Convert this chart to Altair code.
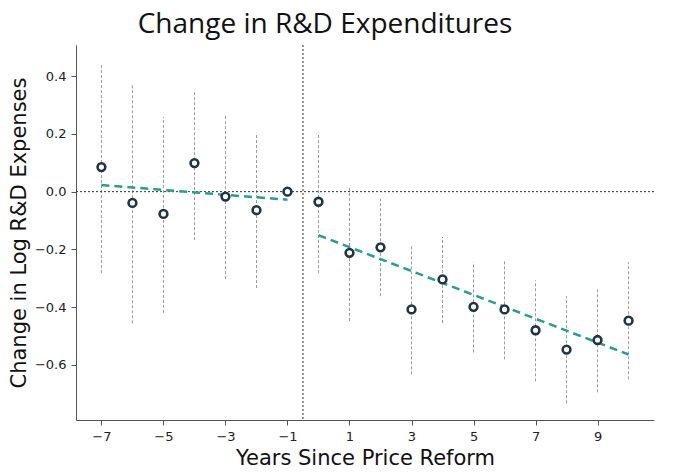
import altair as alt
import pandas as pd

years = [-7, -6, -5, -4, -3, -2, -1, 0, 1, 2, 3, 4, 5, 6, 7, 8, 9, 10]
coef = [0.085, -0.039, -0.077, 0.099, -0.017, -0.064, 0.0, -0.035, -0.212, -0.193,
        -0.408, -0.304, -0.399, -0.408, -0.480, -0.547, -0.514, -0.447]
ci_hi = [0.443, 0.374, 0.259, 0.353, 0.263, 0.204, None, 0.204, 0.020, -0.025,
         -0.185, -0.157, -0.244, -0.237, -0.307, -0.362, -0.338, -0.244]
ci_lo = [-0.282, -0.456, -0.420, -0.168, -0.303, -0.334, None, -0.282, -0.448, -0.362,
         -0.633, -0.455, -0.557, -0.581, -0.657, -0.733, -0.695, -0.650]

fit_x = [-7, -1, 0, 10]
fit_y = [0.023, -0.028, -0.151, -0.564]
fit_grp = ["pre", "pre", "post", "post"]

x_ticks = [-7, -5, -3, -1, 1, 3, 5, 7, 9]
y_ticks = [0.4, 0.2, 0.0, -0.2, -0.4, -0.6]

df = pd.DataFrame({"year": years, "coef": coef, "hi": ci_hi, "lo": ci_lo})
df_ci = df.dropna()
df_fit = pd.DataFrame({"year": fit_x, "fit": fit_y, "grp": fit_grp})

xs = alt.Scale(domain=[-7.82, 10.82], nice=False, zero=False)
ys = alt.Scale(domain=[-0.791, 0.508], nice=False, zero=False)

xax = alt.Axis(values=x_ticks, title="Years Since Price Reform", grid=False,
               labelExpr="replace(datum.label, '-', '\u2212')",
               labelFont="DejaVu Sans", labelFontSize=13, labelColor="#222",
               titleFont="DejaVu Sans", titleFontSize=21, titleFontWeight="normal",
               titleColor="#111", tickSize=5, labelPadding=5, titlePadding=4,
               domainColor="#555", tickColor="#555")
yax = alt.Axis(values=y_ticks, title="Change in Log R&D Expenses", grid=False,
               labelExpr="replace(format(datum.value, '.1f'), '-', '\u2212')",
               labelFont="DejaVu Sans", labelFontSize=13, labelColor="#222",
               titleFont="DejaVu Sans", titleFontSize=21, titleFontWeight="normal",
               titleColor="#111", tickSize=5, labelPadding=5, titlePadding=5,
               domainColor="#555", tickColor="#555")

ci = alt.Chart(df_ci).mark_rule(color="#999999", strokeWidth=1, strokeDash=[3, 2]).encode(
    x=alt.X("year:Q", scale=xs, axis=xax),
    y=alt.Y("lo:Q", scale=ys, axis=yax),
    y2="hi:Q",
)

zero = alt.Chart(pd.DataFrame({"v": [0.0]})).mark_rule(
    color="#333333", strokeWidth=1, strokeDash=[2, 2]).encode(y=alt.Y("v:Q", scale=ys))
vline = alt.Chart(pd.DataFrame({"v": [-0.5]})).mark_rule(
    color="#333333", strokeWidth=1, strokeDash=[2, 2]).encode(x=alt.X("v:Q", scale=xs))

fit = alt.Chart(df_fit).mark_line(color="#2a9d8f", strokeWidth=2.5, strokeDash=[8, 5]).encode(
    x=alt.X("year:Q", scale=xs),
    y=alt.Y("fit:Q", scale=ys),
    detail="grp:N",
)

pts = alt.Chart(df).mark_point(shape="circle", filled=False, fill="white", fillOpacity=1,
                               color="#1f3544", strokeWidth=2.6, size=60, opacity=1).encode(
    x=alt.X("year:Q", scale=xs),
    y=alt.Y("coef:Q", scale=ys),
)

chart = alt.layer(ci, zero, vline, fit, pts).properties(
    width=578, height=375,
    title=alt.TitleParams("Change in R&D Expenditures", font="Open Sans", fontSize=28,
                          fontWeight="normal", color="#111", dx=-40, offset=6),
    autosize=alt.AutoSizeParams(type="none"),
    padding={"left": 68, "top": 37, "right": 10, "bottom": 50},
).configure(background="white").configure_view(stroke=None)

chart.save("out.html", embed_options={"renderer": "svg", "actions": False})
